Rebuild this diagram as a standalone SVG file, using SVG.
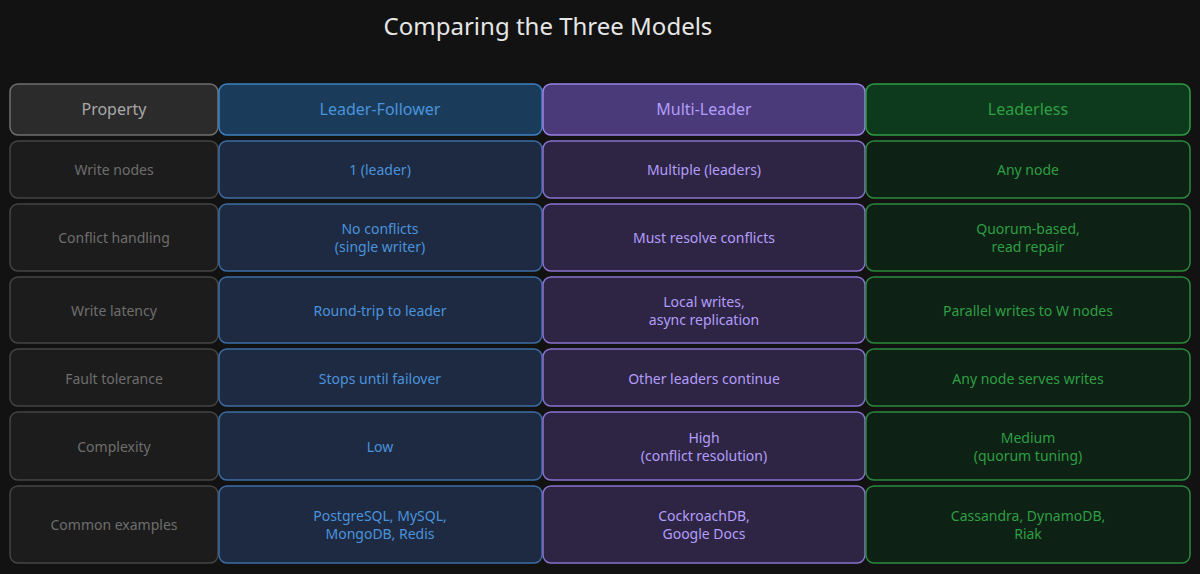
<svg xmlns="http://www.w3.org/2000/svg" width="1200" height="574" viewBox="0 0 1200 574">
<style>
text{font-family:"Noto Sans","Liberation Sans",sans-serif;font-size:14px;text-anchor:middle;dominant-baseline:central}
.title{font-size:24px;fill:#e6e6e6}
rect{stroke-width:1.5}
.ph{fill:#2b2b2b;stroke:#707070}.pc{fill:#1c1c1c;stroke:#444}
.bh{fill:#1a3c5a;stroke:#3c82c4}.bc{fill:#1e2a42;stroke:#3c6ea6}
.mh{fill:#4a3a7a;stroke:#9c82e6}.mc{fill:#2e2544;stroke:#8a72d0}
.gh{fill:#0d3a1c;stroke:#2f9e44}.gc{fill:#0d2214;stroke:#2b8a3e}
.tp{fill:#6e6e6e}.tph{fill:#a8a8a8;font-size:16px}
.tb{fill:#4a93dc}.tm{fill:#b39dfa}.tg{fill:#2f9e44}
.h{font-size:16px}
</style>
<rect width="1200" height="574" fill="#121212"/>
<text class="title" x="548" y="25">Comparing the Three Models</text>
<g id="connectors"/>
<g id="header">
<rect class="ph" x="10" y="84" width="208" height="51" rx="8"/><text class="tph" x="114" y="109">Property</text>
<rect class="bh" x="219" y="84" width="323" height="51" rx="8"/><text class="tb h" x="380" y="109">Leader-Follower</text>
<rect class="mh" x="543" y="84" width="322" height="51" rx="8"/><text class="tm h" x="704" y="109">Multi-Leader</text>
<rect class="gh" x="866" y="84" width="324" height="51" rx="8"/><text class="tg h" x="1028" y="109">Leaderless</text>
</g>
<g id="row1">
<rect class="pc" x="10" y="141" width="208" height="57" rx="8"/><text class="tp" x="114" y="169">Write nodes</text>
<rect class="bc" x="219" y="141" width="323" height="57" rx="8"/><text class="tb" x="380" y="169">1 (leader)</text>
<rect class="mc" x="543" y="141" width="322" height="57" rx="8"/><text class="tm" x="704" y="169">Multiple (leaders)</text>
<rect class="gc" x="866" y="141" width="324" height="57" rx="8"/><text class="tg" x="1028" y="169">Any node</text>
</g>
<g id="row2">
<rect class="pc" x="10" y="204" width="208" height="67" rx="8"/><text class="tp" x="114" y="237">Conflict handling</text>
<rect class="bc" x="219" y="204" width="323" height="67" rx="8"/><text class="tb" x="380" y="228">No conflicts</text><text class="tb" x="380" y="246">(single writer)</text>
<rect class="mc" x="543" y="204" width="322" height="67" rx="8"/><text class="tm" x="704" y="237">Must resolve conflicts</text>
<rect class="gc" x="866" y="204" width="324" height="67" rx="8"/><text class="tg" x="1028" y="228">Quorum-based,</text><text class="tg" x="1028" y="246">read repair</text>
</g>
<g id="row3">
<rect class="pc" x="10" y="277" width="208" height="66" rx="8"/><text class="tp" x="114" y="310">Write latency</text>
<rect class="bc" x="219" y="277" width="323" height="66" rx="8"/><text class="tb" x="380" y="310">Round-trip to leader</text>
<rect class="mc" x="543" y="277" width="322" height="66" rx="8"/><text class="tm" x="704" y="301">Local writes,</text><text class="tm" x="704" y="319">async replication</text>
<rect class="gc" x="866" y="277" width="324" height="66" rx="8"/><text class="tg" x="1028" y="310">Parallel writes to W nodes</text>
</g>
<g id="row4">
<rect class="pc" x="10" y="349" width="208" height="57" rx="8"/><text class="tp" x="114" y="378">Fault tolerance</text>
<rect class="bc" x="219" y="349" width="323" height="57" rx="8"/><text class="tb" x="380" y="378">Stops until failover</text>
<rect class="mc" x="543" y="349" width="322" height="57" rx="8"/><text class="tm" x="704" y="378">Other leaders continue</text>
<rect class="gc" x="866" y="349" width="324" height="57" rx="8"/><text class="tg" x="1028" y="378">Any node serves writes</text>
</g>
<g id="row5">
<rect class="pc" x="10" y="412" width="208" height="68" rx="8"/><text class="tp" x="114" y="446">Complexity</text>
<rect class="bc" x="219" y="412" width="323" height="68" rx="8"/><text class="tb" x="380" y="446">Low</text>
<rect class="mc" x="543" y="412" width="322" height="68" rx="8"/><text class="tm" x="704" y="437">High</text><text class="tm" x="704" y="455">(conflict resolution)</text>
<rect class="gc" x="866" y="412" width="324" height="68" rx="8"/><text class="tg" x="1028" y="437">Medium</text><text class="tg" x="1028" y="455">(quorum tuning)</text>
</g>
<g id="row6">
<rect class="pc" x="10" y="486" width="208" height="77" rx="8"/><text class="tp" x="114" y="524">Common examples</text>
<rect class="bc" x="219" y="486" width="323" height="77" rx="8"/><text class="tb" x="380" y="515">PostgreSQL, MySQL,</text><text class="tb" x="380" y="533">MongoDB, Redis</text>
<rect class="mc" x="543" y="486" width="322" height="77" rx="8"/><text class="tm" x="704" y="515">CockroachDB,</text><text class="tm" x="704" y="533">Google Docs</text>
<rect class="gc" x="866" y="486" width="324" height="77" rx="8"/><text class="tg" x="1028" y="515">Cassandra, DynamoDB,</text><text class="tg" x="1028" y="533">Riak</text>
</g>
</svg>
